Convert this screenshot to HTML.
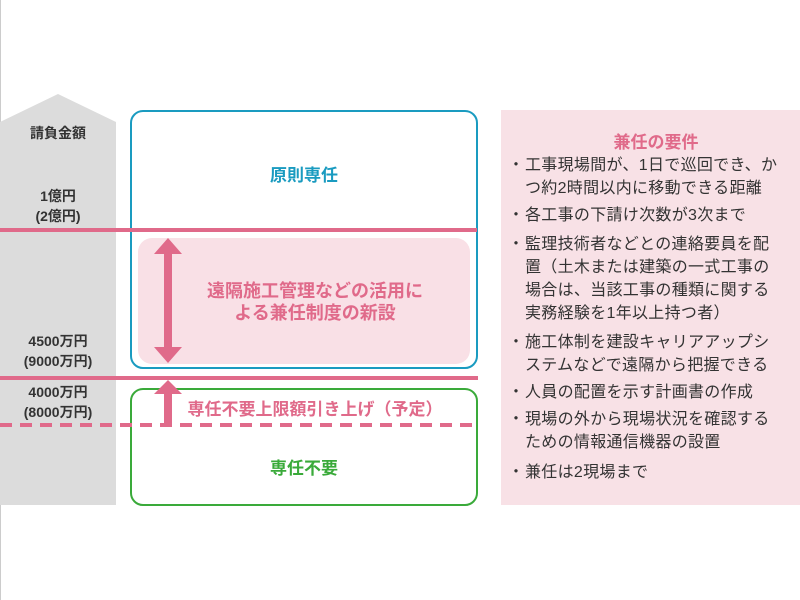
<!DOCTYPE html>
<html><head><meta charset="utf-8"><style>
body{margin:0;width:800px;height:600px;background:#fff;position:relative;overflow:hidden;font-family:"Liberation Sans","Noto Sans CJK JP",sans-serif;}
.a{position:absolute;white-space:nowrap;}
.l{position:absolute;left:0;width:116px;text-align:center;font-size:14px;font-weight:bold;color:#333;line-height:20px;}
.r{position:absolute;left:508px;font-size:16px;letter-spacing:0.3px;color:#333;line-height:23px;white-space:nowrap;}
.r span{display:inline-block;width:17px;}
</style></head><body>
<div class="a" style="left:0;top:0;width:1px;height:600px;background:#ccc"></div>
<svg class="a" style="left:0;top:0" width="800" height="600">
<polygon points="0,122 58,94 116,122 116,505 0,505" fill="#dcdcdc"/>
<rect x="131" y="111" width="346" height="257" rx="12" fill="#fff" stroke="#1a9bc0" stroke-width="2"/>
<rect x="138" y="238" width="332" height="126" rx="14" fill="#f9e0e6"/>
<rect x="131" y="389" width="346" height="116" rx="12" fill="#fff" stroke="#3aaa3a" stroke-width="2"/>
<line x1="0" y1="230" x2="477" y2="230" stroke="#e06a8a" stroke-width="4"/>
<line x1="0" y1="378" x2="478" y2="378" stroke="#e06a8a" stroke-width="4"/>
<line x1="0" y1="425" x2="477" y2="425" stroke="#e06a8a" stroke-width="4" stroke-dasharray="12,8"/>
<rect x="164" y="252" width="8" height="96" fill="#e06a8a"/>
<polygon points="168,238 182,254 154,254" fill="#e06a8a"/>
<polygon points="168,363 182,347 154,347" fill="#e06a8a"/>
<rect x="164" y="392" width="8" height="33" fill="#e06a8a"/>
<polygon points="168,380 182,394 154,394" fill="#e06a8a"/>
<rect x="501" y="110" width="299" height="395" fill="#f8e1e6"/>
</svg>
<div class="l" style="top:123px">請負金額</div>
<div class="l" style="top:186px">1億円<br>(2億円)</div>
<div class="l" style="top:331px">4500万円<br>(9000万円)</div>
<div class="l" style="top:382px">4000万円<br>(8000万円)</div>
<div class="a" style="left:130px;width:348px;text-align:center;top:161px;font-size:17px;font-weight:bold;color:#1a9bc0">原則専任</div>
<div class="a" style="left:150px;width:330px;text-align:center;top:280px;font-size:18px;line-height:22px;font-weight:bold;color:#e06a8a">遠隔施工管理などの活用に<br>よる兼任制度の新設</div>
<div class="a" style="left:180px;width:270px;text-align:center;top:395px;font-size:17px;font-weight:bold;color:#e06a8a">専任不要上限額引き上げ（予定）</div>
<div class="a" style="left:130px;width:348px;text-align:center;top:454px;font-size:17px;font-weight:bold;color:#3aaa3a">専任不要</div>
<div class="a" style="left:501px;width:310px;text-align:center;top:128px;font-size:17px;font-weight:bold;color:#e06a8a">兼任の要件</div>
<div class="r" style="top:154px"><span>・</span>工事現場間が、1日で巡回でき、か<br><span></span>つ約2時間以内に移動できる距離</div>
<div class="r" style="top:204px"><span>・</span>各工事の下請け次数が3次まで</div>
<div class="r" style="top:233px"><span>・</span>監理技術者などとの連絡要員を配<br><span></span>置（土木または建築の一式工事の<br><span></span>場合は、当該工事の種類に関する<br><span></span>実務経験を1年以上持つ者）</div>
<div class="r" style="top:331px"><span>・</span>施工体制を建設キャリアアップシ<br><span></span>ステムなどで遠隔から把握できる</div>
<div class="r" style="top:381px"><span>・</span>人員の配置を示す計画書の作成</div>
<div class="r" style="top:408px"><span>・</span>現場の外から現場状況を確認する<br><span></span>ための情報通信機器の設置</div>
<div class="r" style="top:461px"><span>・</span>兼任は2現場まで</div>
</body></html>
